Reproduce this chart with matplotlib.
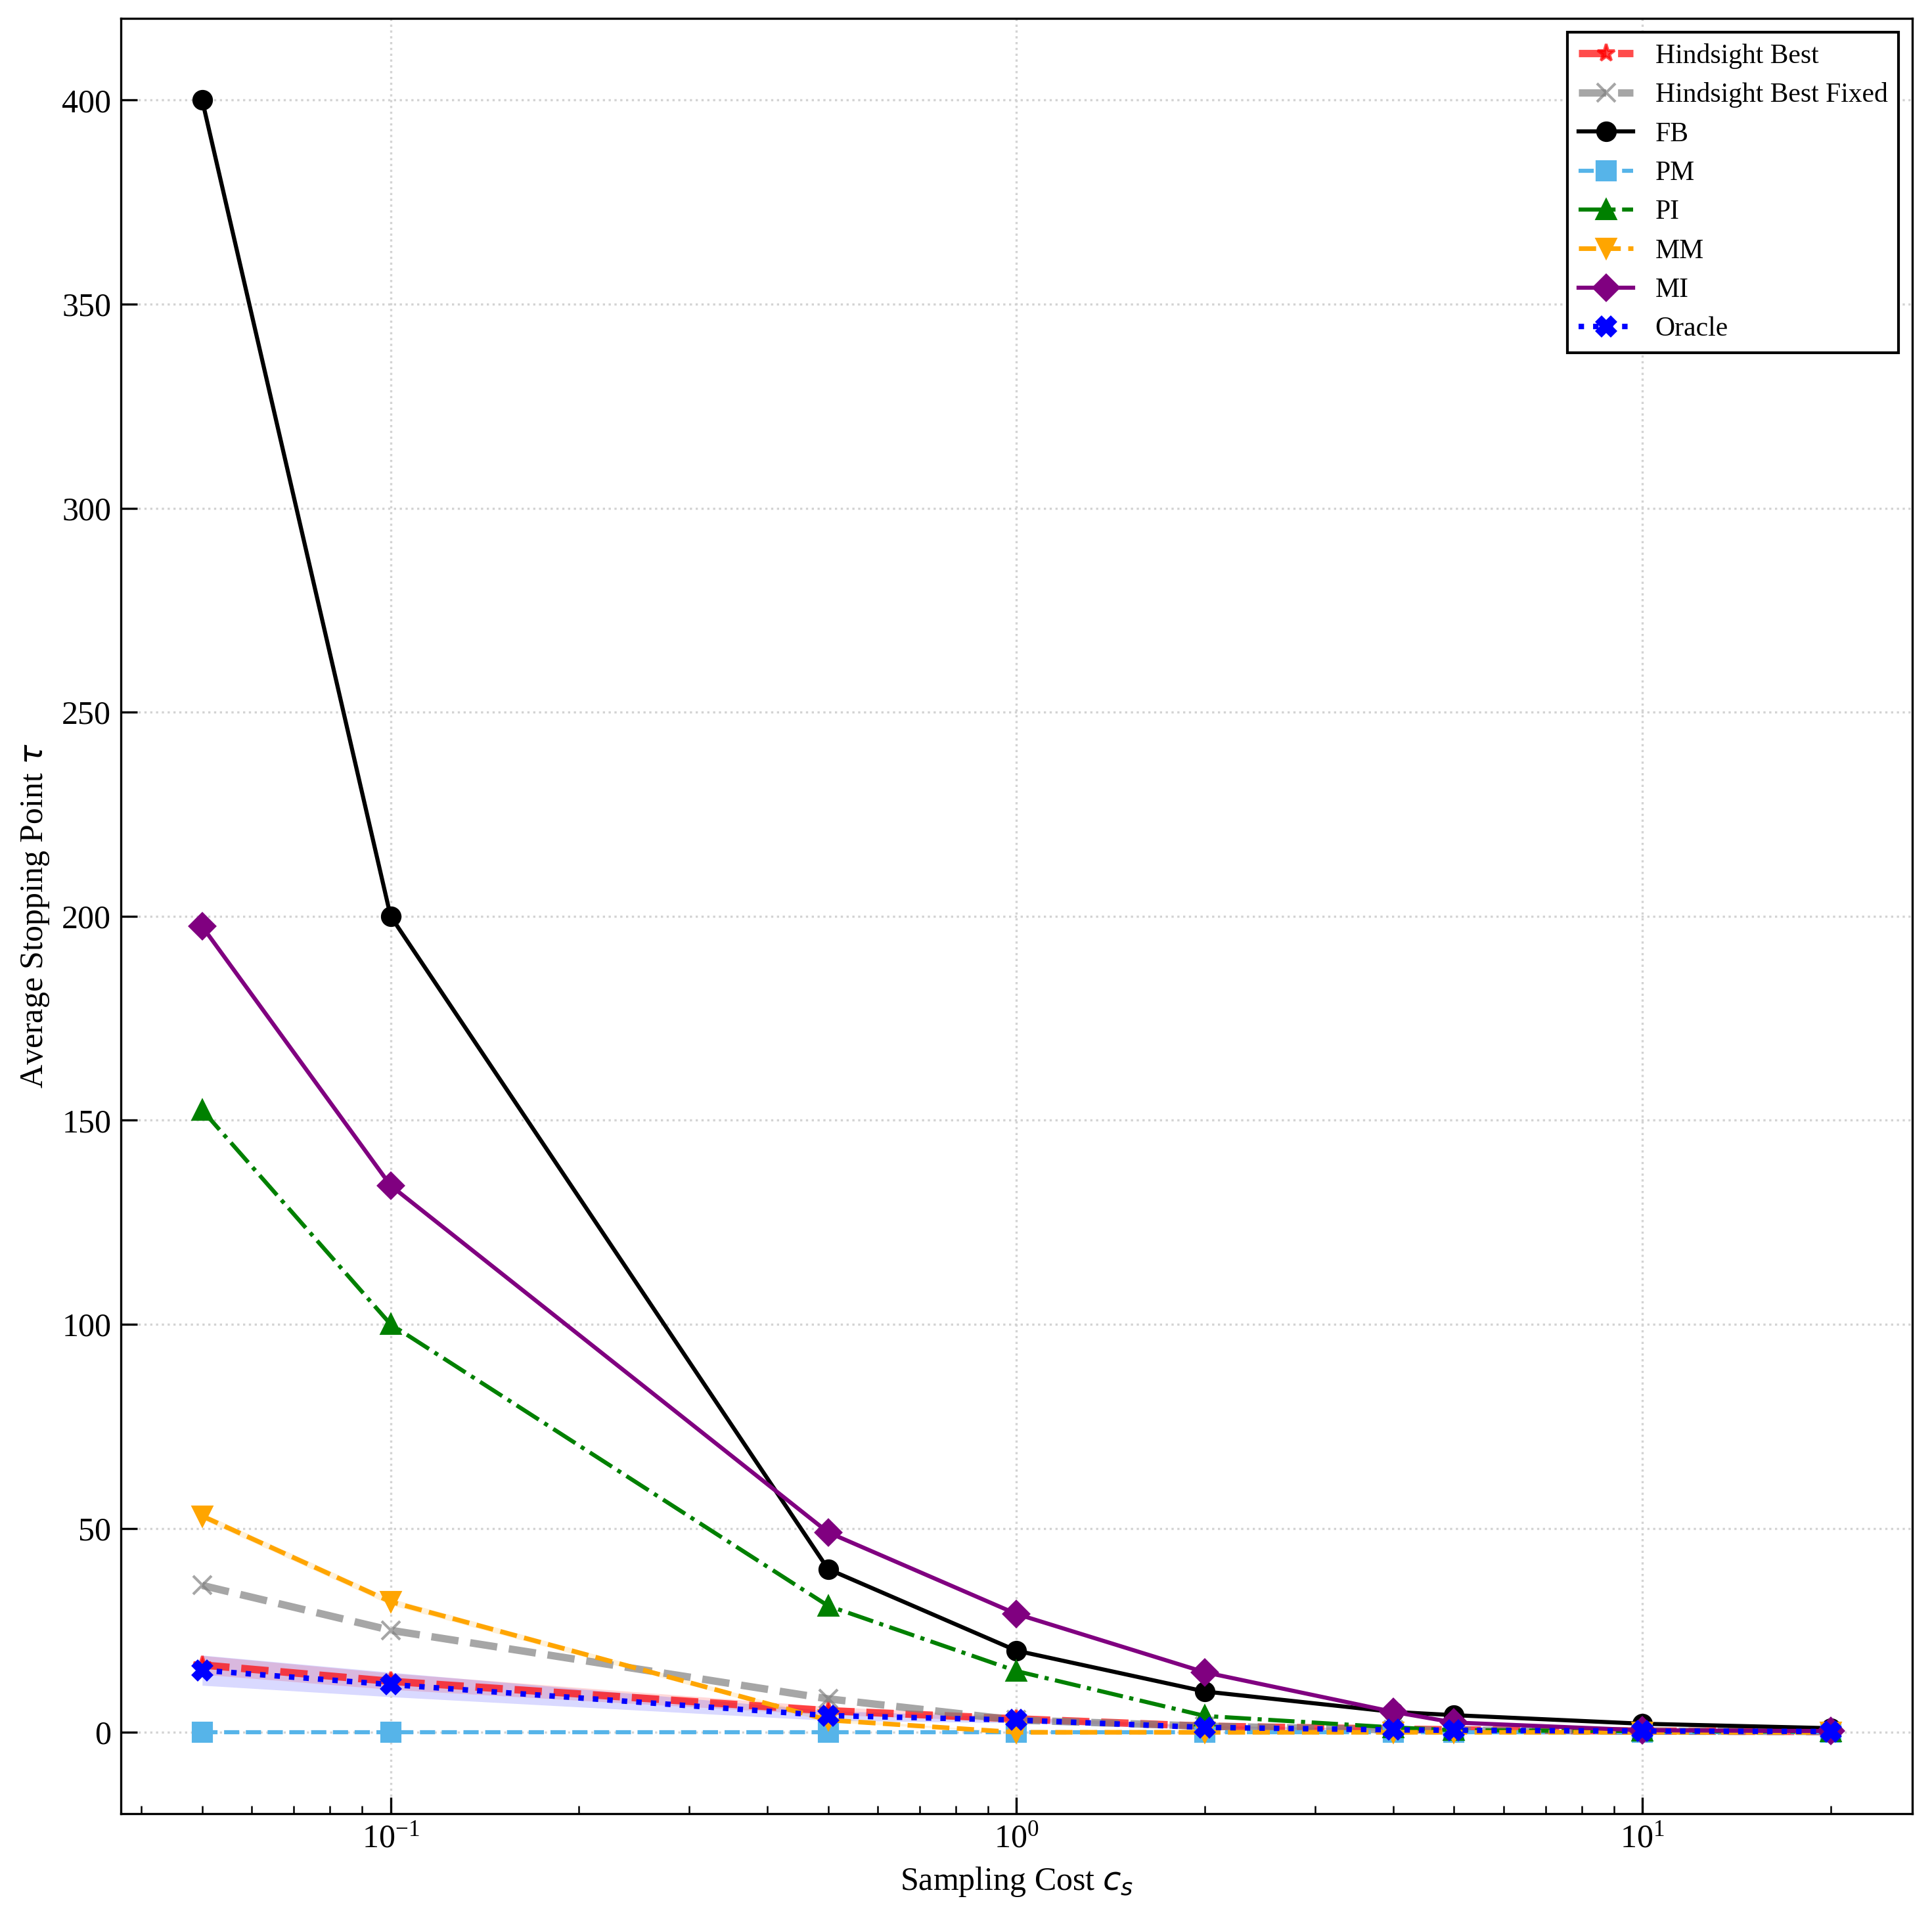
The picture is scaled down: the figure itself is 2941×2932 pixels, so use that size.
import numpy as np
import matplotlib
matplotlib.use("Agg")
import matplotlib.pyplot as plt

plt.rcParams['font.family'] = ['Liberation Serif', 'DejaVu Serif']
plt.rcParams['font.size'] = 12

costs = [0.05, 0.1, 0.5, 1, 2, 4, 5, 10, 20]

hb = [16.5, 12.5, 5.3, 3.3, 1.5, 0.8, 0.6, 0.3, 0.2]
hb_std = [2.3, 2.0, 1.0, 0.6, 0.3, 0.2, 0.2, 0.1, 0.1]
hbf = [36, 25, 8.2, 3, 1.5, 0.6, 0.5, 0.3, 0.2]
fb = [400, 200, 40, 20, 10, 5, 4.2, 2.1, 1.0]
pm = [0, 0, 0, 0, 0, 0, 0, 0, 0]
pi = [152.5, 100, 31, 15, 4, 1.2, 0.5, 0.3, 0.2]
mm = [53, 32, 3, 0, 0, 0, 0, 0, 0]
mm_std = [0.8, 0.8, 0.5, 0, 0, 0, 0, 0, 0]
mi = [197.5, 134, 49, 29, 14.7, 5, 2.4, 0.5, 0.3]
oracle = [15.2, 11.7, 4.1, 3, 1.2, 0.6, 0.5, 0.3, 0.2]
oracle_std = [3.7, 3.0, 1.2, 0.7, 0.4, 0.2, 0.2, 0.1, 0.1]

fig, ax = plt.subplots(figsize=(2941/300, 2932/300), dpi=300)

hb_a = np.array(hb); hb_s = np.array(hb_std)
or_a = np.array(oracle); or_s = np.array(oracle_std)
mm_a = np.array(mm); mm_s = np.array(mm_std)

ax.plot(costs, hb, '--', marker='*', color='red', alpha=0.7, lw=2.7, ms=6.5, label='Hindsight Best')
ax.fill_between(costs, hb_a - hb_s, hb_a + hb_s, color='red', alpha=0.15, lw=0)
ax.plot(costs, hbf, '--', marker='x', color='gray', alpha=0.7, lw=2.7, ms=6.5, label='Hindsight Best Fixed')
ax.plot(costs, fb, '-', marker='o', color='black', lw=1.5, ms=6.5, label='FB')
ax.plot(costs, pm, '--', marker='s', color='#56B4E9', lw=1.5, ms=6.5, label='PM')
ax.plot(costs, pi, '-.', marker='^', color='green', lw=1.5, ms=6.5, label='PI')
ax.plot(costs, mm, '--', marker='v', color='orange', lw=1.7, ms=6.5, label='MM')
ax.fill_between(costs, mm_a - mm_s, mm_a + mm_s, color='orange', alpha=0.15, lw=0)
ax.plot(costs, mi, '-', marker='D', color='purple', lw=1.5, ms=6.5, label='MI')
ax.plot(costs, oracle, ':', marker='X', color='blue', lw=2, ms=6.5, label='Oracle')
ax.fill_between(costs, or_a - or_s, or_a + or_s, color='blue', alpha=0.15, lw=0)

ax.set_xscale('log')
ax.set_ylim(-20, 420)
ax.set_xlabel('Sampling Cost $c_s$')
ax.set_ylabel(r'Average Stopping Point $\tau$')
ax.grid(True, linestyle=':', color='lightgray')
ax.tick_params(which='both', direction='in')
ax.tick_params(which='major', length=6)
ax.tick_params(which='minor', length=3)
ax.legend(loc='upper right', fontsize=10, fancybox=False, edgecolor='black', framealpha=1)

fig.subplots_adjust(left=0.0625, right=0.9898, top=0.9904, bottom=0.0582)
plt.savefig('out.png', dpi=300)
